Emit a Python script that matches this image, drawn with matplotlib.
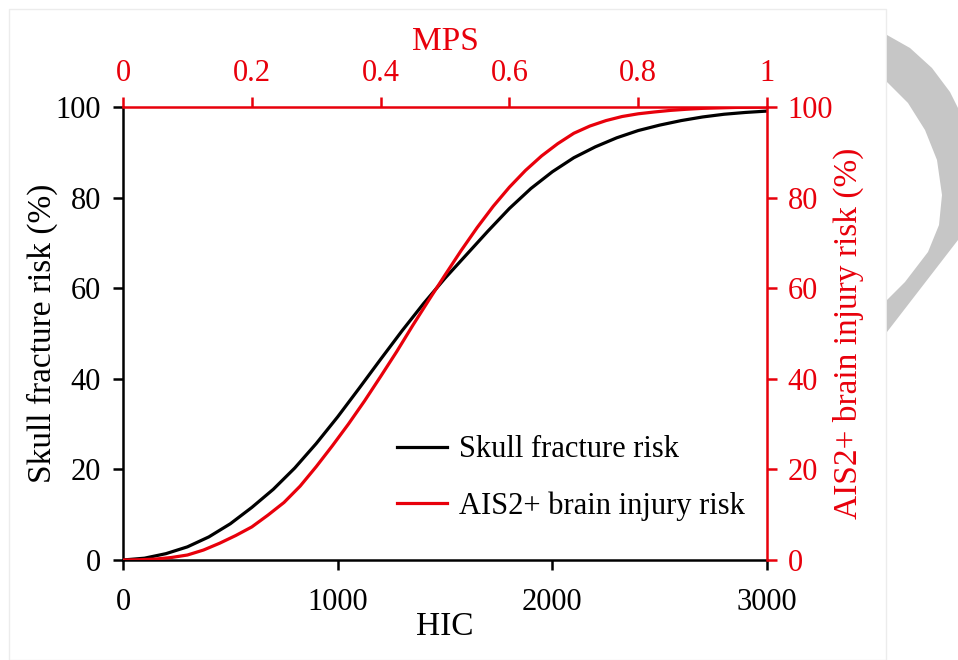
import matplotlib
matplotlib.use("Agg")
import matplotlib.pyplot as plt
from matplotlib.patches import Polygon, Rectangle
from matplotlib.lines import Line2D

plt.rcParams["font.family"] = ["Liberation Serif", "DejaVu Serif"]

# Skull fracture risk vs HIC
hic = [0, 100, 200, 300, 400, 500, 600, 700, 800, 900, 1000,
       1100, 1200, 1300, 1400, 1500, 1600, 1700, 1800, 1900, 2000,
       2100, 2200, 2300, 2400, 2500, 2600, 2700, 2800, 2900, 3000]
skull_risk = [0, 0.4, 1.4, 2.9, 5.1, 8.0, 11.6, 15.6, 20.3, 25.7, 31.6,
              37.9, 44.3, 50.6, 56.6, 62.2, 67.4, 72.6, 77.6, 82.0, 85.7,
              88.8, 91.2, 93.2, 94.8, 96.0, 97.0, 97.8, 98.4, 98.8, 99.1]

# AIS2+ brain injury risk vs MPS
mps = [0.000, 0.025, 0.050, 0.075, 0.100, 0.125, 0.150, 0.175, 0.200, 0.225,
       0.250, 0.275, 0.300, 0.325, 0.350, 0.375, 0.400, 0.425, 0.450, 0.475,
       0.500, 0.525, 0.550, 0.575, 0.600, 0.625, 0.650, 0.675, 0.700, 0.725,
       0.750, 0.775, 0.800, 0.825, 0.850, 0.875, 0.900, 0.925, 0.950, 0.975, 1.000]
brain_risk = [0, 0.05, 0.2, 0.55, 1.1, 2.2, 3.7, 5.4, 7.3, 9.9,
              12.7, 16.3, 20.6, 25.2, 30.0, 35.1, 40.5, 46.0, 51.8, 57.4,
              62.9, 68.3, 73.4, 78.1, 82.3, 86.0, 89.2, 91.9, 94.2, 95.8,
              97.0, 97.9, 98.5, 98.9, 99.25, 99.5, 99.7, 99.8, 99.9, 99.95, 100]

hic_ticks = [0, 1000, 2000, 3000]
mps_ticks = [0, 0.2, 0.4, 0.6, 0.8, 1]
mps_ticklabels = ["0", "0.2", "0.4", "0.6", "0.8", "1"]
risk_ticks = [0, 20, 40, 60, 80, 100]

RED = "#e8000b"
W, H = 958, 660

fig = plt.figure(figsize=(W / 100, H / 100), dpi=100)
fig.patch.set_facecolor("white")

# light page panel and grey decorative arc at the right margin
fig.patches.append(Rectangle((9 / W, 0), (886 - 9) / W, 1 - 9 / H,
                             transform=fig.transFigure, facecolor="white",
                             edgecolor="#ececec", lw=1.0, zorder=-5))
arc_px = [(887, 35), (910, 48), (932, 68), (950, 92), (958, 108),
          (958, 240), (887, 332), (887, 300), (905, 282), (928, 252),
          (939, 225), (942, 195), (937, 160), (925, 130), (908, 103), (887, 82)]
fig.patches.append(Polygon([(x / W, 1 - y / H) for x, y in arc_px], closed=True,
                           transform=fig.transFigure, facecolor="#c6c6c6",
                           edgecolor="none", zorder=-5))

rect = [123 / W, 1 - 560 / H, (767 - 123) / W, (560 - 107) / H]
ax = fig.add_axes(rect)
ax2 = fig.add_axes(rect, frameon=True)
ax.patch.set_visible(False)
ax2.patch.set_visible(False)

lw_spine = 1.8
TICK_FS = 22
LABEL_FS = 24
tick_kw = dict(direction="out", length=7, width=lw_spine, labelsize=TICK_FS)

# bottom / left axes: HIC vs skull fracture risk
ax.plot(hic, skull_risk, color="black", lw=2.3, solid_capstyle="butt")
ax.set_xlim(0, 3000)
ax.set_ylim(0, 100)
ax.set_xticks(hic_ticks)
ax.set_yticks(risk_ticks)
ax.tick_params(axis="x", pad=13, **tick_kw)
ax.tick_params(axis="y", pad=9, **tick_kw)
ax.spines["top"].set_visible(False)
ax.spines["right"].set_visible(False)
for s in ("bottom", "left"):
    ax.spines[s].set_linewidth(lw_spine)
ax.set_xlabel("HIC", fontsize=LABEL_FS)
ax.set_ylabel("Skull fracture risk (%)", fontsize=LABEL_FS)
ax.xaxis.set_label_coords(0.5, (560 - 627) / 453)
ax.yaxis.set_label_coords((42 - 123) / 644, 0.5)
ax.xaxis.label.set_va("center")
ax.yaxis.label.set_va("center")

# top / right axes: MPS vs AIS2+ brain injury risk
ax2.plot(mps, brain_risk, color=RED, lw=2.3, solid_capstyle="butt")
ax2.set_xlim(0, 1)
ax2.set_ylim(0, 100)
ax2.xaxis.tick_top()
ax2.xaxis.set_label_position("top")
ax2.yaxis.tick_right()
ax2.yaxis.set_label_position("right")
ax2.set_xticks(mps_ticks)
ax2.set_xticklabels(mps_ticklabels)
ax2.set_yticks(risk_ticks)
ax2.tick_params(axis="x", colors=RED, pad=7, **tick_kw)
ax2.tick_params(axis="y", colors=RED, pad=8, **tick_kw)
ax2.spines["bottom"].set_visible(False)
ax2.spines["left"].set_visible(False)
for s in ("top", "right"):
    ax2.spines[s].set_color(RED)
    ax2.spines[s].set_linewidth(lw_spine)
ax2.set_xlabel("MPS", fontsize=LABEL_FS, color=RED)
ax2.set_ylabel("AIS2+ brain injury risk (%)", fontsize=LABEL_FS, color=RED)
ax2.xaxis.set_label_coords(0.5, (560 - 42) / 453)
ax2.yaxis.set_label_coords((848 - 123) / 644, 0.5)
ax2.xaxis.label.set_va("center")
ax2.yaxis.label.set_va("center")

handles = [Line2D([], [], color="black", lw=2.3),
           Line2D([], [], color=RED, lw=2.3)]
ax.legend(handles, ["Skull fracture risk", "AIS2+ brain injury risk"],
          loc="upper left", bbox_to_anchor=(0.425, 0.275), frameon=False,
          fontsize=22, handlelength=1.63, handletextpad=0.42,
          labelspacing=0.87, borderpad=0, borderaxespad=0)

fig.savefig("out.png", dpi=100)
